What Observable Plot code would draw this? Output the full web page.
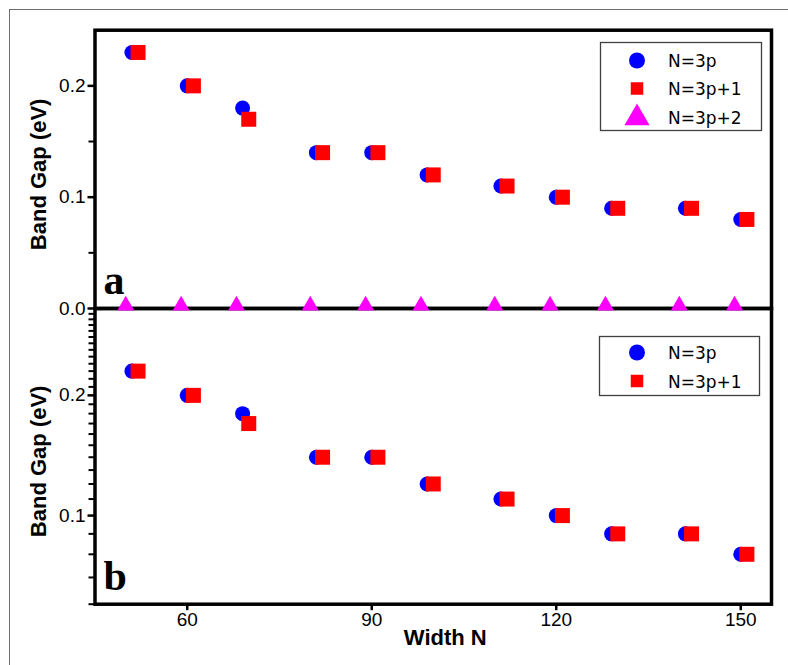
<!DOCTYPE html>
<html>
<head>
<meta charset="utf-8">
<script src="https://cdn.jsdelivr.net/npm/d3@7"></script>
<script src="https://cdn.jsdelivr.net/npm/@observablehq/plot@0.6"></script>
<style>
  html, body { margin: 0; padding: 0; background: #fff; }
  #chart { position: relative; width: 788px; height: 665px; background: #fff; overflow: hidden; }
  #edge { position: absolute; left: 9px; top: 9px; width: 800px; height: 700px;
          border-left: 1.5px solid #6e6e6e; border-top: 1.5px solid #6e6e6e; }
  .panel { position: absolute; left: 0; }
  #legends { position: absolute; left: 0; top: 0; pointer-events: none; }
</style>
</head>
<body>
<div id="chart">
  <div id="edge"></div>
  <div id="bottom" class="panel" style="top:300px"></div>
  <div id="top" class="panel" style="top:0px"></div>
</div>
<script>
// Band gap versus ribbon width N, split by N mod 3
const widths3p  = [51, 60, 69, 81, 90, 99, 111, 120, 129, 141, 150];
const gap3p     = [0.23, 0.20, 0.18, 0.14, 0.14, 0.12, 0.11, 0.10, 0.09, 0.09, 0.08];
const widths3p1 = [52, 61, 70, 82, 91, 100, 112, 121, 130, 142, 151];
const gap3p1    = [0.23, 0.20, 0.17, 0.14, 0.14, 0.12, 0.11, 0.10, 0.09, 0.09, 0.08];
const widths3p2 = [50, 59, 68, 80, 89, 98, 110, 119, 128, 140, 149];
const gap3p2    = [0, 0, 0, 0, 0, 0, 0, 0, 0, 0, 0];

const seriesNames = ["N=3p", "N=3p+1", "N=3p+2"];
const xTicks = [60, 90, 120, 150];
const yTicksLinear = [0.0, 0.1, 0.2];
const yMinorLinear = [0.05, 0.15];
const yTicksLog = [0.1, 0.2];
const yMinorLog = [0.06, 0.07, 0.08, 0.09, 0.11, 0.12, 0.13, 0.14, 0.15, 0.16, 0.17, 0.18, 0.19,
                   0.21, 0.22, 0.23, 0.24, 0.25, 0.26, 0.27, 0.28, 0.29, 0.30, 0.31, 0.32];

const rows = (xs, ys) => xs.map((x, i) => ({x, y: ys[i]}));
const set3p = rows(widths3p, gap3p);
const set3p1 = rows(widths3p1, gap3p1);
const set3p2 = rows(widths3p2, gap3p2);

const BLUE = "#0000ff", RED = "#ff0000", MAGENTA = "#ff00ff";
const SANS = "'Liberation Sans', Arial, sans-serif";
const xDomain = [45, 155];

const baseStyle = {fontFamily: SANS, fontSize: "19px", color: "black", background: "transparent", overflow: "visible"};

function yLabel(text) {
  return Plot.text([text], {
    frameAnchor: "left", textAnchor: "middle", rotate: -90, dx: -56.5, dy: 5, lineAnchor: "middle",
    fontSize: 22, fontWeight: "bold", fontFamily: SANS, fill: "black"
  });
}
function panelLetter(letter, dy) {
  return Plot.text([letter], {
    frameAnchor: "bottom-left", textAnchor: "start", lineAnchor: "bottom", dx: 8.5, dy,
    fontSize: 42, fontWeight: "bold", fontFamily: "'Liberation Serif', 'Times New Roman', serif", fill: "black"
  });
}
// Short unlabelled ticks on the left edge
const minorTicks = (values) =>
  Plot.axisY({ticks: values, tickSize: 6, tickFormat: () => "", stroke: "black", strokeWidth: 2, label: null});

// Panel a: linear band-gap axis
const topPlot = Plot.plot({
  width: 788, height: 320,
  marginLeft: 94.5, marginRight: 17, marginTop: 29.7, marginBottom: 12,
  style: baseStyle,
  x: {domain: xDomain, axis: null},
  y: {domain: [0, 0.25]},
  marks: [
    minorTicks(yMinorLinear),
    Plot.axisY({ticks: yTicksLinear, tickSize: 7, tickPadding: 2.5, strokeWidth: 2.5,
                tickFormat: d => d.toFixed(1), label: null}),
    Plot.frame({stroke: "black", strokeWidth: 3.5}),
    Plot.dot(set3p, {x: "x", y: "y", r: 7.5, symbol: "circle", fill: BLUE}),
    Plot.dot(set3p1, {x: "x", y: "y", r: 8.46, symbol: "square", fill: RED}),
    Plot.dot(set3p2, {x: "x", y: "y", r: 6.3, symbol: "triangle", fill: MAGENTA, dy: -3}),
    yLabel("Band Gap (eV)"),
    panelLetter("a", -15)
  ]
});

// Panel b: the same gaps on a logarithmic axis
const bottomPlot = Plot.plot({
  width: 788, height: 365,
  marginLeft: 94.5, marginRight: 17, marginTop: 8, marginBottom: 61.3,
  style: baseStyle,
  x: {domain: xDomain},
  y: {type: "log", domain: [0.06, 0.33]},
  marks: [
    minorTicks(yMinorLog),
    Plot.axisY({ticks: yTicksLog, tickSize: 7, tickPadding: 2.5, strokeWidth: 2.5,
                tickFormat: d => d.toFixed(1), label: null}),
    Plot.axisX({ticks: xTicks, tickSize: 6.5, tickPadding: 2, strokeWidth: 2.5,
                tickFormat: d => String(d), label: null}),
    Plot.frame({stroke: "black", strokeWidth: 3.5}),
    Plot.dot(set3p, {x: "x", y: "y", r: 7.5, symbol: "circle", fill: BLUE}),
    Plot.dot(set3p1, {x: "x", y: "y", r: 8.46, symbol: "square", fill: RED}),
    yLabel("Band Gap (eV)"),
    panelLetter("b", -14),
    Plot.text(["Width N"], {frameAnchor: "bottom", dx: 12, dy: 41, lineAnchor: "bottom",
                            fontSize: 22, fontWeight: "bold", fontFamily: SANS, fill: "black"})
  ]
});

document.getElementById("top").appendChild(topPlot);
document.getElementById("bottom").appendChild(bottomPlot);

// Legends for both panels
const legendSvg = d3.select("#chart").append("svg")
  .attr("id", "legends").attr("width", 788).attr("height", 665);

const swatches = {
  "N=3p":   {type: d3.symbolCircle, size: Math.PI * 8 * 8, fill: BLUE, dy: 0},
  "N=3p+1": {type: d3.symbolSquare, size: 12.5 * 12.5, fill: RED, dy: 0},
  "N=3p+2": {type: d3.symbolTriangle, size: 275, fill: MAGENTA, dy: 1}
};

function legend(box, names, rowY) {
  const g = legendSvg.append("g");
  g.append("rect").attr("x", box.x).attr("y", box.y).attr("width", box.w).attr("height", box.h)
    .attr("fill", "white").attr("stroke", "#404040").attr("stroke-width", 1.3);
  names.forEach((name, i) => {
    const s = swatches[name];
    g.append("path")
      .attr("d", d3.symbol(s.type, s.size)())
      .attr("transform", `translate(637,${rowY[i] + s.dy})`)
      .attr("fill", s.fill);
    g.append("text").attr("x", 668).attr("y", rowY[i] + 6.5)
      .attr("font-family", "'DejaVu Sans', sans-serif").attr("font-size", 17)
      .attr("fill", "black").text(name);
  });
}

legend({x: 600.5, y: 42.5, w: 161, h: 88}, seriesNames, [60.5, 88.5, 117]);
legend({x: 599.5, y: 336.5, w: 160, h: 59}, seriesNames.slice(0, 2), [352.5, 381]);
</script>
</body>
</html>
